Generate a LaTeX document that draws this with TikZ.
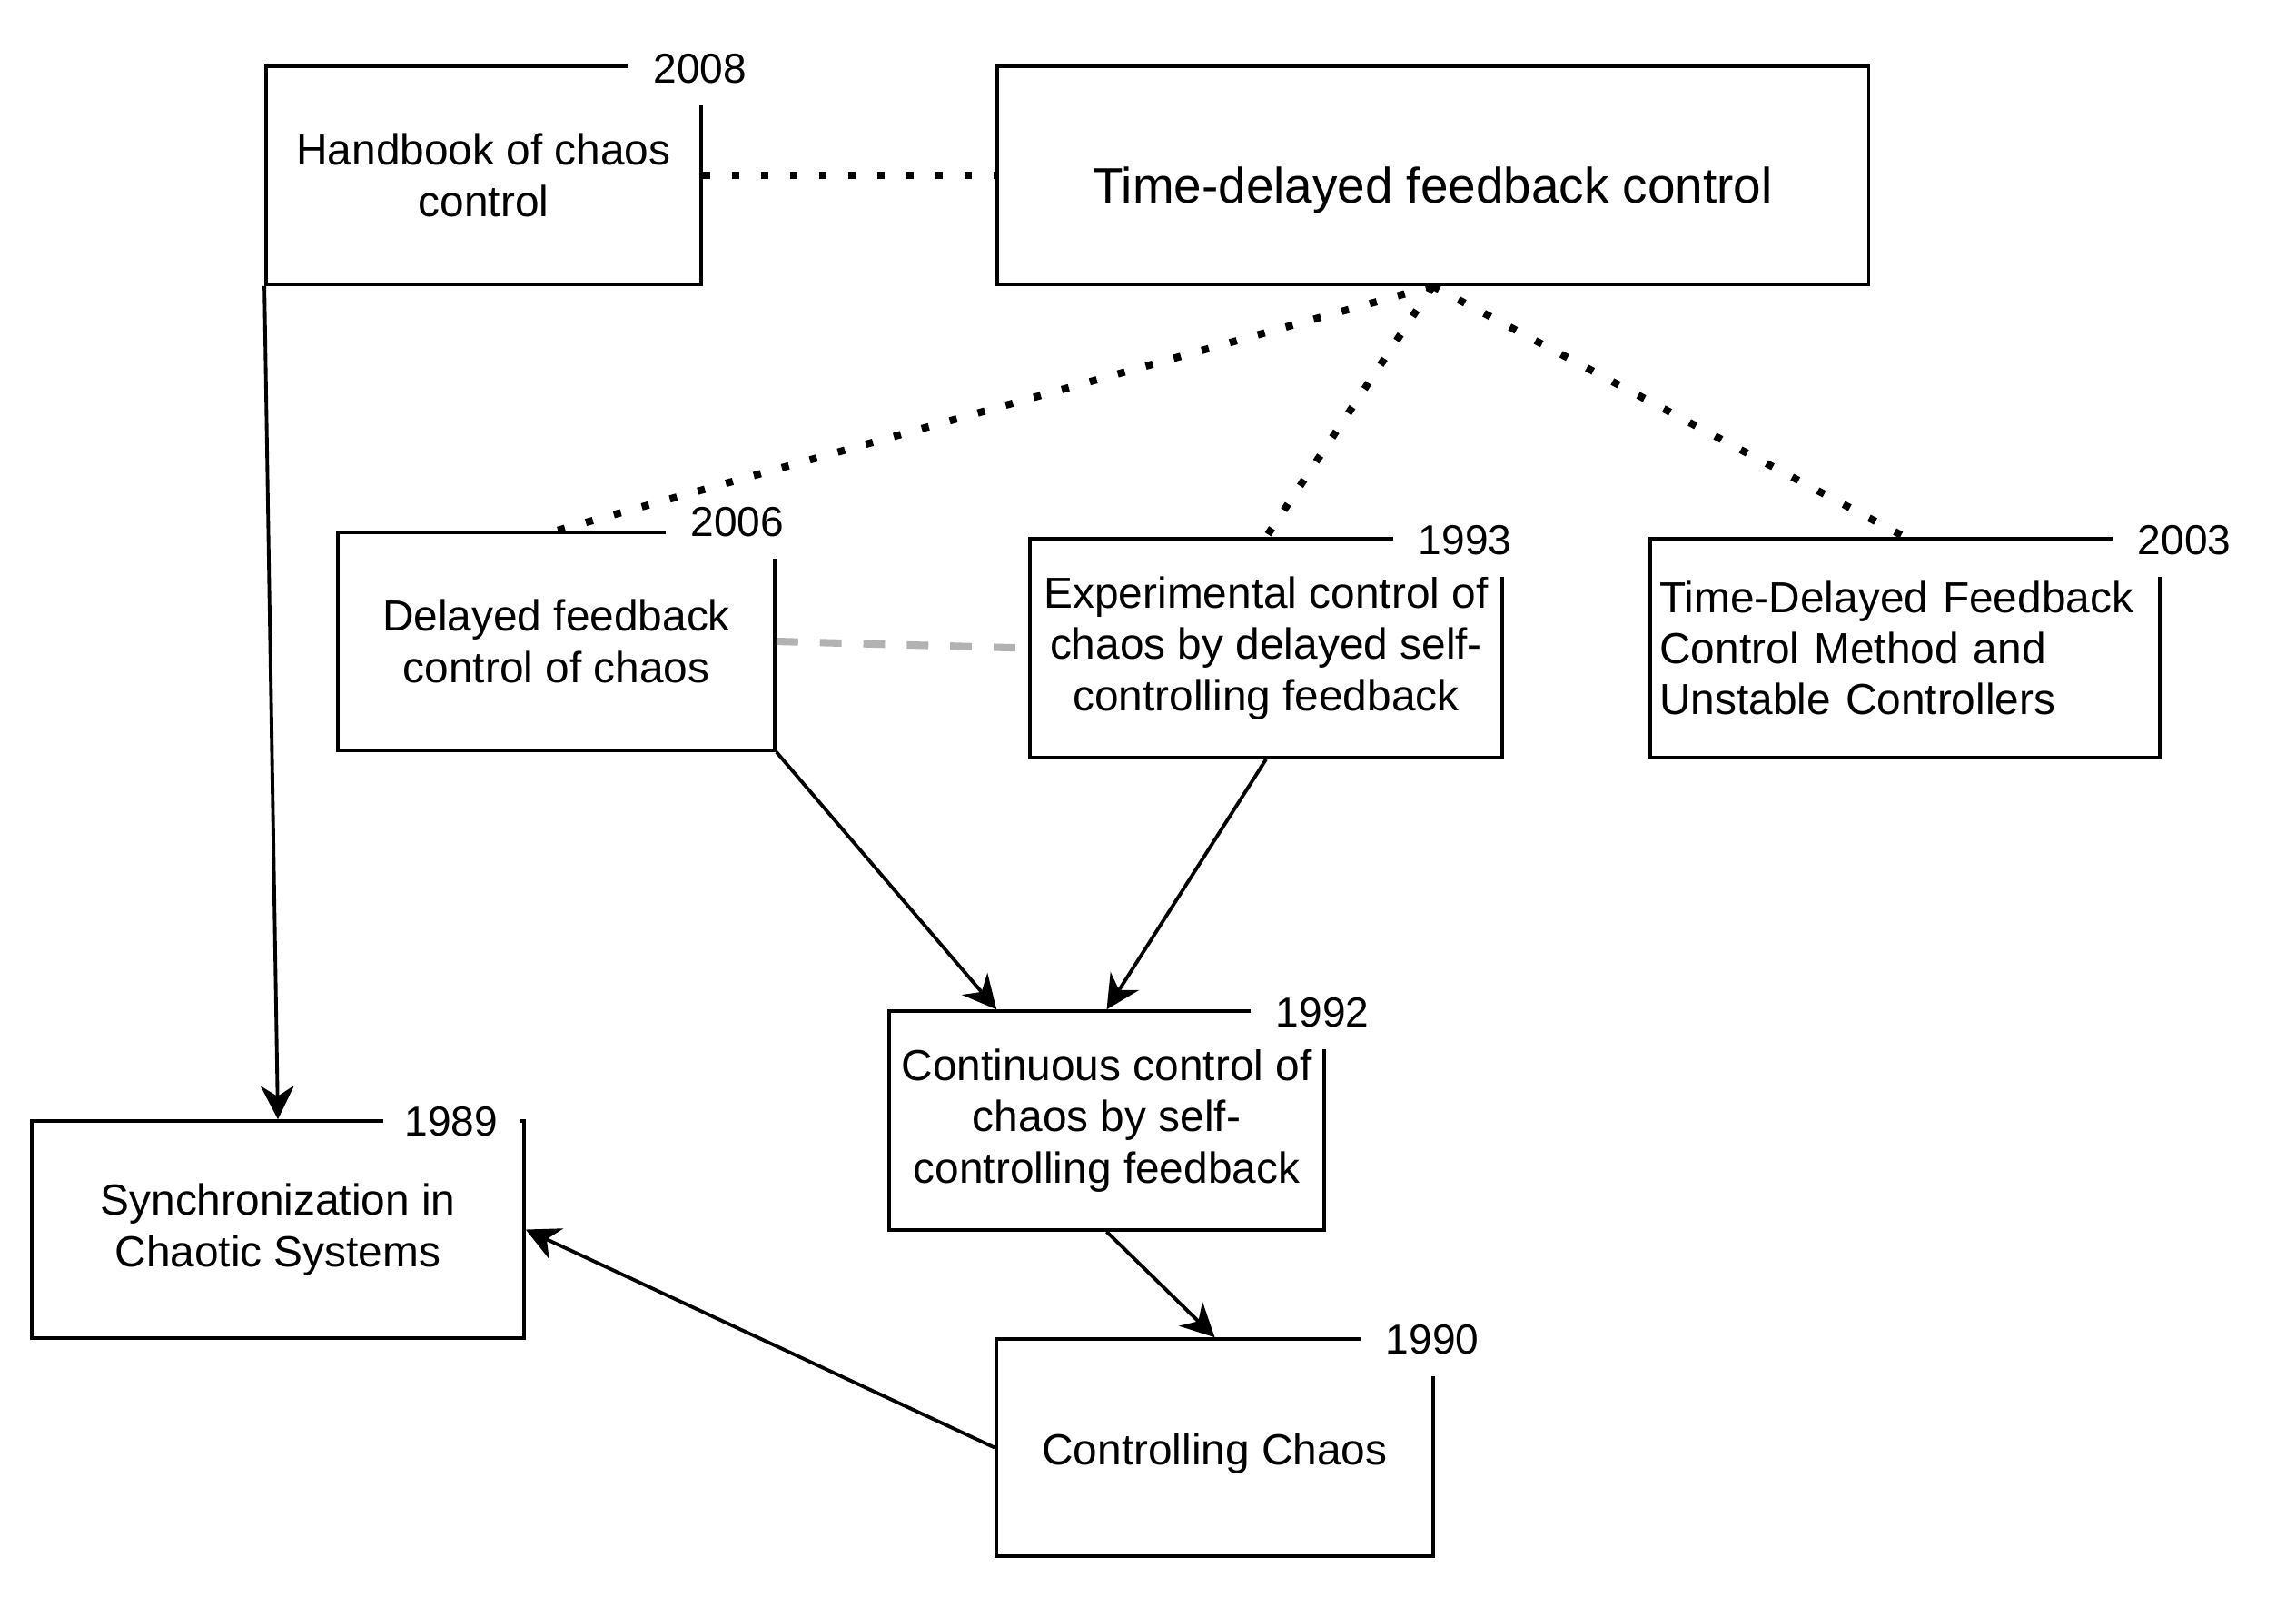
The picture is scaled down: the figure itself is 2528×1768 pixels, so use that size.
\documentclass[tikz,border=0pt]{standalone}
\usepackage{fontspec}
\setmainfont{Liberation Sans}
\usetikzlibrary{arrows.meta}
\begin{document}
\begin{tikzpicture}[x=0.01cm,y=-0.01cm,
    box/.style={draw,line width=1pt,inner sep=0pt,align=center,font=\fontsize{13.6}{16}\selectfont},
    year/.style={fill=white,inner sep=0pt,minimum width=1.58cm,minimum height=0.8cm,font=\fontsize{13.1}{16}\selectfont},
    link/.style={-{Stealth[length=10.5pt,width=10.5pt,inset=3.3pt]},line width=1.1pt},
    dots/.style={line width=2.3pt,dash pattern=on 2.3pt off 6.8pt},
    gdash/.style={line width=2.3pt,black!30,dash pattern=on 6.8pt off 6.8pt}]
    \useasboundingbox (0,0) rectangle (2528,1768);

    % Papers
    \node[box,minimum width=4.79cm,minimum height=2.4cm] (hb) at (532.5,193) {Handbook of chaos\\control};
    \node[box,minimum width=9.59cm,minimum height=2.4cm,text height=0.75cm,text depth=0.15cm,font=\fontsize{15.6}{18}\selectfont] (tdfc) at (1577.5,193) {Time-delayed feedback control};
    \node[box,minimum width=4.81cm,minimum height=2.4cm] (dfc) at (612.5,706) {Delayed feedback\\control of chaos};
    \node[box,minimum width=5.2cm,minimum height=2.41cm] (exp) at (1394,713.5) {Experimental control of\\chaos by delayed self-\\controlling feedback};
    \node[box,minimum width=5.61cm,minimum height=2.41cm,text width=5.4cm,align=left] (tdm) at (2097.5,713.5) {Time-Delayed Feedback\\Control Method and\\Unstable Controllers};
    \node[box,minimum width=4.79cm,minimum height=2.41cm] (cont) at (1218.5,1233.5) {Continuous control of\\chaos by self-\\controlling feedback};
    \node[box,minimum width=5.42cm,minimum height=2.39cm] (sync) at (306,1353.5) {Synchronization in\\Chaotic Systems};
    \node[box,minimum width=4.81cm,minimum height=2.39cm,text height=0.47cm,text depth=0.1cm] (cc) at (1337.5,1593.5) {Controlling Chaos};

    % Years
    \node[year] (y2008) at (771,76) {2008};
    \node[year] (y2006) at (812,575) {2006};
    \node[year] (y1993) at (1613,595) {1993};
    \node[year] (y2003) at (2405,595) {2003};
    \node[year] (y1992) at (1456,1115) {1992};
    \node[year,minimum width=1.5cm] (y1989) at (497,1235) {1989};
    \node[year] (y1990) at (1577,1475) {1990};

    % Related
    \draw[dots] (hb.east) -- (tdfc.west);
    \draw[dots] (tdfc.south) -- (dfc.north);
    \draw[dots] (tdfc.south) -- (exp.north);
    \draw[dots] (tdfc.south) -- (tdm.north);
    \draw[gdash] (dfc.east) -- (exp.west);

    % Cites
    \draw[link] (hb.south west) -- (sync.north);
    \draw[link] (dfc.south east) -- ([xshift=1.2cm]cont.north west);
    \draw[link] (exp.south) -- (cont.north);
    \draw[link] (cont.south) -- (cc.north);
    \draw[link] (cc.west) -- (sync.east);
\end{tikzpicture}
\end{document}
